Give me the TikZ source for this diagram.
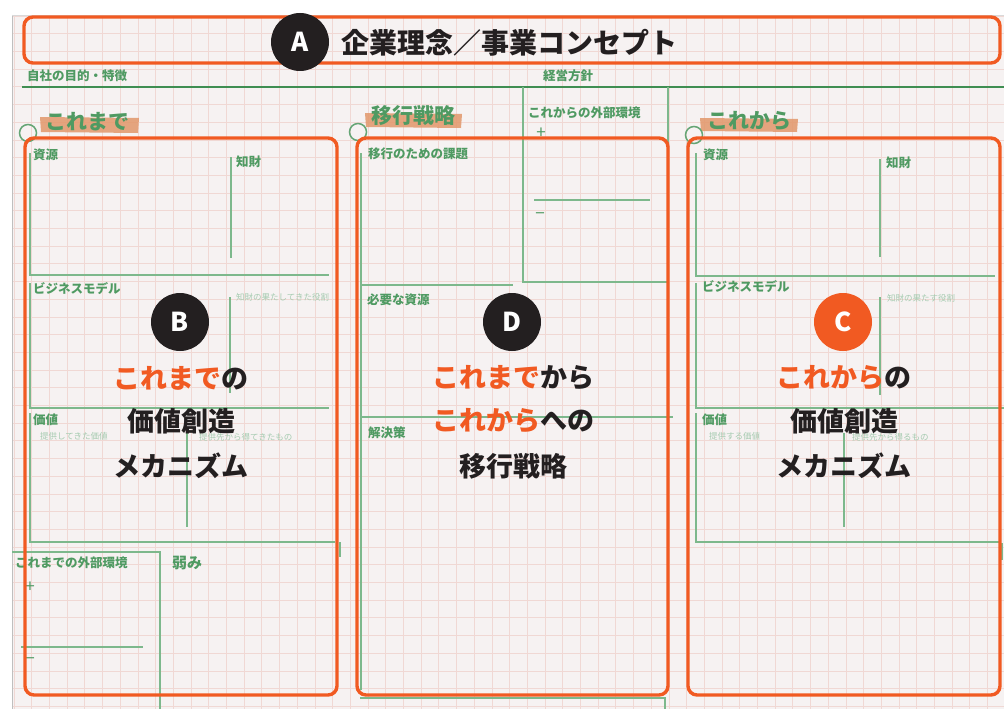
\documentclass[tikz,border=0pt]{standalone}
\usepackage{fontspec}
\setmainfont{Noto Sans CJK JP}
\definecolor{org}{HTML}{F15A22}
\definecolor{gdark}{HTML}{3F8E52}
\definecolor{gline}{HTML}{7DB88C}
\definecolor{gtext}{HTML}{4F9A62}
\definecolor{gpale}{HTML}{A5CBB0}
\definecolor{paper}{HTML}{F6F2F2}
\definecolor{gridc}{HTML}{F0D8D4}
\definecolor{hl}{HTML}{E2976A}
\definecolor{ink}{HTML}{231F20}
\tikzset{
  obox/.style={draw=org, line width=3.4pt, rounded corners=9pt},
  gl/.style={draw=gline, line width=1.8pt},
  lab/.style={text=gtext, font=\bfseries\fontsize{12.5}{12.5}\selectfont, anchor=west, inner sep=0pt},
  tinylab/.style={text=gpale, font=\fontsize{8.5}{8.5}\selectfont, anchor=west, inner sep=0pt},
  sect/.style={text=gtext, font=\bfseries\fontsize{21}{21}\selectfont, anchor=west, inner sep=0pt},
  badge/.style={circle, fill=ink, text=white, minimum size=58pt, inner sep=0pt, font=\bfseries\fontsize{26}{26}\selectfont},
  big/.style={font=\bfseries\fontsize{27}{27}\selectfont, text=ink, inner sep=0pt, anchor=center},
  pm/.style={text=gtext, font=\fontsize{17}{17}\selectfont, inner sep=0pt},
  ring/.style={draw=gdark!80, line width=1.5pt, circle, minimum size=17pt, inner sep=0pt},
  hlbar/.style={fill=hl, opacity=0.85}
}
\begin{document}
\begin{tikzpicture}[x=1pt,y=-1pt]
\useasboundingbox (0,0) rectangle (1004,709);
\fill[white] (0,0) rectangle (1004,709);
% paper sheet
\fill[paper] (12,15) rectangle (1004,709);
\foreach \i in {0,...,56} {\draw[gridc, line width=0.7pt] ({14+17.7*\i},15) -- ({14+17.7*\i},709);}
\foreach \j in {0,...,39} {\draw[gridc, line width=0.7pt] (12,{16+17.7*\j}) -- (1004,{16+17.7*\j});}
\draw[gray!50, line width=1pt] (12,15) -- (12,709);
\draw[gray!30, line width=0.8pt] (12,15) -- (1004,15);

% header
\node[lab] (mokuteki) at (27,76) {自社の目的・特徴};
\node[lab] (hoshin) at (543,76) {経営方針};
\draw[draw=gdark, line width=2pt] (22,87) -- (1004,87);

% middle top box: future external environment
\draw[gl] (523,87) -- (523,282) -- (668,282) -- (668,87);
\node[lab] (kgaibu) at (528,113) {これからの外部環境};
\node[pm] (kplus) at (541,133) {+};
\draw[gl] (534,200) -- (650,200);
\node[pm] (kminus) at (540,216) {−};

% section labels with highlight
\fill[hlbar] (40,117) -- (139,118) -- (138,133) -- (41,132) -- cycle;
\node[sect] (s1) at (45,122) {これまで};
\fill[hlbar] (365,113) -- (462,114) -- (461,128) -- (366,127) -- cycle;
\node[sect] (s2) at (371,116) {移行戦略};
\fill[hlbar] (700,118) -- (798,119) -- (797,132) -- (701,131) -- cycle;
\node[sect] (s3) at (707,121) {これから};
\node[ring] (r1) at (28,133) {};
\node[ring] (r2) at (358,132) {};
\node[ring] (r3) at (694,135) {};

% ---------- left panel (これまで) ----------
\draw[gl] (30,153) -- (30,275) -- (329,275);
\draw[gl] (231,157) -- (231,258);
\draw[gl] (30,283) -- (30,408) -- (329,408);
\draw[gl] (230,297) -- (230,393);
\draw[gl] (30,413) -- (30,542) -- (335,542);
\draw[gl] (187,433) -- (187,527);
\draw[gl] (340,542) -- (340,557);
\node[lab] (l1) at (33,155) {資源};
\node[lab] (l2) at (236,162) {知財};
\node[lab] (l3) at (33,289) {ビジネスモデル};
\node[tinylab] (l4) at (236,297) {知財の果たしてきた役割};
\node[lab] (l5) at (33,420) {価値};
\node[tinylab] (l6) at (40,436) {提供してきた価値};
\node[tinylab] (l7) at (199,437) {提供先から得てきたもの};
% past external environment
\draw[gl] (12,552) -- (160,552) -- (160,709);
\node[lab] (l8) at (15,563) {これまでの外部環境};
\node[lab, font=\bfseries\fontsize{15}{15}\selectfont] (l9) at (172,563) {弱み};
\node[pm] (lplus) at (30,587) {+};
\draw[gl] (21,647) -- (143,647);
\node[pm] (lminus) at (30,661) {−};

% ---------- middle panel (移行戦略) ----------
\draw[gl] (361,153) -- (361,690);
\draw[gl] (361,285) -- (513,285);
\draw[gl] (361,417) -- (673,417);
\draw[gl] (360,698) -- (665,698) -- (665,709);
\node[lab] (m1) at (368,154) {移行のための課題};
\node[lab] (m2) at (367,300) {必要な資源};
\node[lab] (m3) at (368,433) {解決策};

% ---------- right panel (これから) ----------
\draw[gl] (696,153) -- (696,276) -- (995,276);
\draw[gl] (880,159) -- (880,257);
\draw[gl] (696,283) -- (696,408) -- (1004,408);
\draw[gl] (880,297) -- (880,395);
\draw[gl] (696,413) -- (696,542) -- (1000,542);
\draw[gl] (844,433) -- (844,527);
\draw[gl] (1002,543) -- (1002,560);
\node[lab] (r1l) at (703,155) {資源};
\node[lab] (r2l) at (886,163) {知財};
\node[lab] (r3l) at (702,287) {ビジネスモデル};
\node[tinylab] (r4l) at (887,298) {知財の果たす役割};
\node[lab] (r5l) at (702,420) {価値};
\node[tinylab] (r6l) at (709,436) {提供する価値};
\node[tinylab] (r7l) at (852,437) {提供先から得るもの};

% ---------- orange frames ----------
\draw[obox] (24,17) rectangle (1000,63);
\draw[obox] (25,138) rectangle (337,695);
\draw[obox] (357,138) rectangle (668,695);
\draw[obox] (688,138) rectangle (1000,695);

% A title
\node[badge] (A) at (300,42) {A};
\node[anchor=west, inner sep=0pt, text=ink, font=\bfseries\fontsize{28}{28}\selectfont] (title) at (341,43) {企業理念／事業コンセプト};

% B
\node[badge] (B) at (180,322) {B};
\node[big] (b1) at (181,378) {\textcolor{org}{これまで}の};
\node[big] (b2) at (181,421) {価値創造};
\node[big] (b3) at (181,466) {メカニズム};

% D
\node[badge] (D) at (512,322) {D};
\node[big] (d1) at (513,378) {\textcolor{org}{これまで}から};
\node[big] (d2) at (513,421) {\textcolor{org}{これから}への};
\node[big] (d3) at (513,466) {移行戦略};

% C
\node[badge, fill=org] (C) at (843,322) {C};
\node[big] (c1) at (844,378) {\textcolor{org}{これから}の};
\node[big] (c2) at (844,421) {価値創造};
\node[big] (c3) at (844,466) {メカニズム};
\end{tikzpicture}
\end{document}
